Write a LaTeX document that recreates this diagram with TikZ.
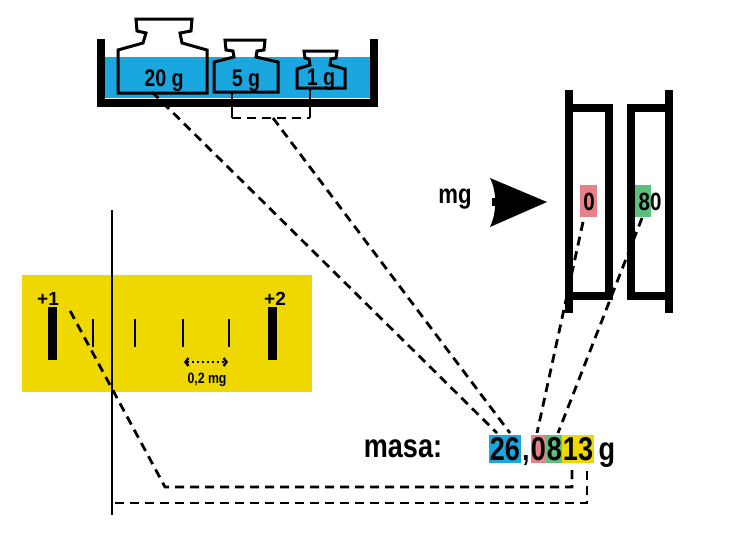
\documentclass[tikz,border=0pt]{standalone}
\usepackage{fontspec}
\setmainfont{Liberation Sans}
\newfontfamily\condfont[FakeStretch=0.82]{Liberation Sans}
\usetikzlibrary{arrows.meta}
\definecolor{water}{RGB}{26,167,224}
\definecolor{pinkc}{RGB}{232,128,138}
\definecolor{greenc}{RGB}{92,191,124}
\definecolor{yellowc}{RGB}{238,216,0}
\begin{document}
\begin{tikzpicture}[x=1pt,y=-1pt,
  wall/.style={line width=8pt,line join=miter},
  wout/.style={line width=3pt,line join=miter},
  dline/.style={line width=2.8pt,dash pattern=on 9pt off 6pt},
  wlbl/.style={inner sep=0pt,anchor=base,font=\condfont\bfseries\fontsize{24}{24}\selectfont},
  read/.style={inner sep=0pt,anchor=base,font=\condfont\bfseries\fontsize{33}{33}\selectfont},
  flbl/.style={inner sep=0pt,anchor=base,font=\condfont\bfseries\fontsize{25}{25}\selectfont},
  slbl/.style={inner sep=0pt,anchor=base,font=\bfseries\fontsize{19}{19}\selectfont}]
\useasboundingbox[fill=white] (0,0) rectangle (737,542);
% ---------- container with water and weights
\fill[water] (105,57) rectangle (370,98);
\draw[wall] (101,39) -- (101,102.5) -- (374,102.5) -- (374,39);
\draw[wout] (136,19) -- (192,19) -- (191,31) -- (180,33) -- (182,43) -- (207,50) -- (207,93) -- (118,93) -- (118,50) -- (143,43) -- (146,33) -- (137,31) -- cycle;
\draw[wout] (225,40) -- (265,40) -- (264,50) -- (257,51) -- (256,57) -- (278,62) -- (278,92) -- (214,92) -- (214,62) -- (234,57) -- (233,51) -- (226,50) -- cycle;
\draw[wout] (304,51) -- (337,51) -- (336,58) -- (331,59) -- (330,65) -- (345,69) -- (345,88) -- (297,88) -- (297,69) -- (310,65) -- (309,59) -- (305,58) -- cycle;
\node[wlbl] (w20) at (164,86) {20 g};
\node[wlbl] (w5) at (246,86) {5 g};
\node[wlbl] (w1) at (321,85) {1 g};
\coordinate (w20b) at (152,92);
\coordinate (w5b) at (232,92);
\coordinate (w1b) at (310,88);
\coordinate (br5) at (232,118);
\coordinate (br1) at (310,118);
\coordinate (brm) at (273,118);
\draw[line width=2.8pt] (w5b) -- (br5);
\draw[line width=2.8pt] (w1b) -- (br1);
\draw[dline] (br5) -- (br1);
% ---------- optical scale frames
\draw[wall] (569,90) -- (569,313);
\draw[wall] (569,108) rectangle (609,296);
\draw[wall] (669,90) -- (669,313);
\draw[wall] (631,108) rectangle (669,296);
\fill[pinkc] (580,185) rectangle (597,217);
\fill[greenc] (635,185) rectangle (651,217);
\node[flbl] (f0) at (589,210) {0};
\node[flbl] (f80) at (650,210) {80};
\coordinate (f0b) at (583,222);
\coordinate (f80b) at (642,218);
% ---------- mg arrow
\node[inner sep=0pt,font=\condfont\bfseries\fontsize{27}{27}\selectfont] (mg) at (455,199) {mg};
\fill (490,178) -- (547,202) -- (490,227) .. controls (497,212) and (497,192) .. cycle;
\fill (492,198) rectangle (498,206);
% ---------- vernier panel
\fill[yellowc] (22,275) rectangle (312,392);
\fill (48,307) rectangle (57,360);
\fill (268,307) rectangle (277,360);
\foreach \tx in {93,135,183,229} \draw[line width=2.8pt] (\tx,319) -- (\tx,347);
\node[slbl] (p1) at (48,305) {+1};
\node[slbl] (p2) at (275,305) {+2};
\coordinate (p1b) at (68,307);
\draw[line width=2pt,dash pattern=on 2.5pt off 2.5pt,
  {Straight Barb[length=3pt,width=8pt,line width=2.4pt]}-{Straight Barb[length=3pt,width=8pt,line width=2.4pt]}]
  (184,362) -- (228,362);
\node[inner sep=0pt,anchor=base,font=\condfont\bfseries\fontsize{15}{15}\selectfont] (step02) at (207,383) {0,2 mg};
\draw[line width=2.8pt] (112,210) -- (112,515);
% ---------- readout
\node[read] (masa) at (403,457) {masa:};
\fill[water] (489,435) rectangle (521,463);
\fill[pinkc] (531,435) rectangle (546,463);
\fill[greenc] (546,435) rectangle (562,463);
\fill[yellowc] (562,435) rectangle (594,463);
\node[read] (d26) at (505,460) {26};
\node[read] (dc) at (526,460) {,};
\node[read] (d0) at (538.5,460) {0};
\node[read] (d8) at (554.5,460) {8};
\node[read] (d13) at (578,460) {13};
\node[read] (unit) at (607,460) {g};
\coordinate (t26a) at (497,433);
\coordinate (t26b) at (510,433);
\coordinate (t0) at (537,433);
\coordinate (t8) at (558,433);
\coordinate (u1) at (572,470);
\coordinate (u3) at (587,471);
\coordinate (c1) at (572,487);
\coordinate (c2) at (165,487);
\coordinate (c3) at (587,503);
\coordinate (c4) at (114,503);
% ---------- dashed connectors
\draw[dline] (w20b) -- (t26a);
\draw[dline] (brm) -- (t26b);
\draw[dline] (f0b) -- (t0);
\draw[dline] (f80b) -- (t8);
\draw[dline] (u1) -- (c1) -- (c2) -- (p1b);
\draw[dline] (u3) -- (c3) -- (c4);
\end{tikzpicture}
\end{document}
